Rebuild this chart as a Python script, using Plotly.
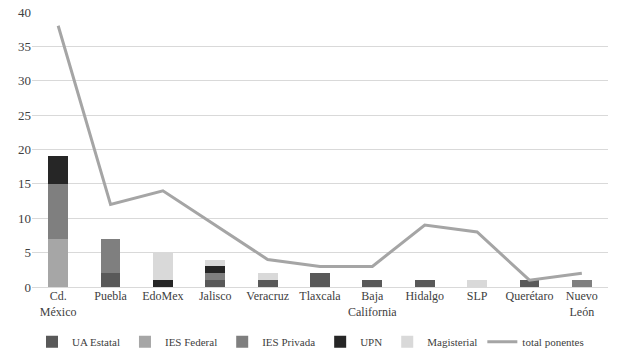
import plotly.graph_objects as go

categories = ["Cd.<br>México", "Puebla", "EdoMex", "Jalisco", "Veracruz", "Tlaxcala",
              "Baja<br>California", "Hidalgo", "SLP", "Querétaro", "Nuevo<br>León"]
ua_estatal  = [0, 2, 0, 1, 1, 2, 1, 1, 0, 1, 0]
ies_federal = [7, 0, 0, 0, 0, 0, 0, 0, 0, 0, 0]
ies_privada = [8, 5, 0, 1, 0, 0, 0, 0, 0, 0, 1]
upn         = [4, 0, 1, 1, 0, 0, 0, 0, 0, 0, 0]
magisterial = [0, 0, 4, 1, 1, 0, 0, 0, 1, 0, 0]
total_ponentes = [38, 12, 14, 9, 4, 3, 3, 9, 8, 1, 2]

FONT = "Liberation Serif, Times New Roman, serif"

fig = go.Figure()
series = [("UA Estatal", ua_estatal, "#595959"),
          ("IES Federal", ies_federal, "#a6a6a6"),
          ("IES Privada", ies_privada, "#7f7f7f"),
          ("UPN", upn, "#262626"),
          ("Magisterial", magisterial, "#d9d9d9")]
for name, vals, col in series:
    fig.add_trace(go.Bar(x=categories, y=vals, name=name, marker_color=col,
                         marker_line_width=0))
fig.add_trace(go.Scatter(x=categories, y=total_ponentes, name="total ponentes",
                         mode="lines", line=dict(color="#a5a5a5", width=3)))

fig.update_layout(
    barmode="stack", bargap=0.62,
    width=620, height=361,
    margin=dict(l=32, r=12, t=12, b=74, autoexpand=False),
    paper_bgcolor="white", plot_bgcolor="white",
    font=dict(family=FONT, size=13, color="#404040"),
    showlegend=True,
    legend=dict(orientation="h", x=0.0, xanchor="left",
                yref="container", y=0.053, yanchor="middle",
                font=dict(family=FONT, size=11, color="#404040"), traceorder="normal",
                itemwidth=30, tracegroupgap=0),
    xaxis=dict(showgrid=False, showline=False, ticks="", tickangle=0, automargin=False,
               tickfont=dict(family=FONT, size=12, color="#404040")),
    yaxis=dict(range=[0, 40], dtick=5, showgrid=True, gridcolor="#d9d9d9", automargin=False,
               gridwidth=1, zeroline=True, zerolinecolor="#d9d9d9", zerolinewidth=1,
               ticks="", tickfont=dict(family=FONT, size=13, color="#404040")),
)
fig.write_html("out.html", config={"displayModeBar": False},
               post_script="document.body.style.margin='0';")
